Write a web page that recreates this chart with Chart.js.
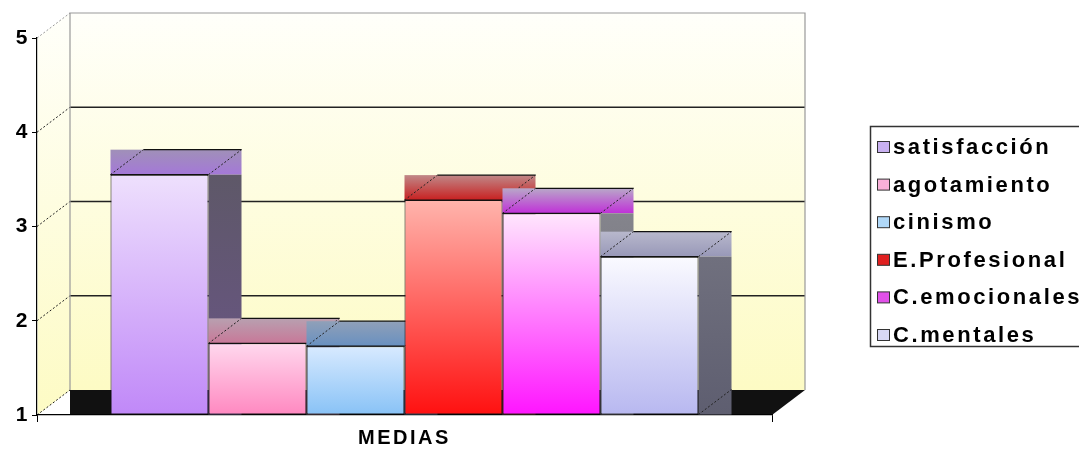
<!DOCTYPE html>
<html>
<head>
<meta charset="utf-8">
<script src="https://cdn.jsdelivr.net/npm/chart.js@4.4.0/dist/chart.umd.min.js"></script>
<style>
  html, body { margin: 0; padding: 0; background: #fff; overflow: hidden; }
  #wrap { width: 1079px; height: 453px; position: relative; }
</style>
</head>
<body>
<div id="wrap"><canvas id="grafico"></canvas></div>
<script>
// Datos
const categorias = ['MEDIAS'];
const series = ['satisfacción', 'agotamiento', 'cinismo', 'E.Profesional', 'C.emocionales', 'C.mentales'];
const medias = [3.55, 1.76, 1.73, 3.28, 3.14, 2.68];
const ticksY = [1, 2, 3, 4, 5];

// Colores (frente arriba/abajo, cara superior arriba/abajo, lateral arriba/abajo, leyenda)
const frente = [['#eee0fd', '#c088f8'], ['#ffd8ee', '#ff88c0'], ['#d8eaff', '#88c2f6'],
                ['#ffb4ac', '#ff1010'], ['#ffe6fd', '#ff14ff'], ['#fafaff', '#b8b8f0']];
const superior = [['#a090b8', '#a478d8'], ['#b8a0b0', '#c87898'], ['#90a0b8', '#6890c0'],
                  ['#c08888', '#c82020'], ['#b8a8c8', '#c030d8'], ['#b8b8cc', '#9898b8']];
const lateral = [['#5e5868', '#6a5488'], ['#706070', '#806070'], ['#586878', '#506888'],
                 ['#705050', '#703030'], ['#84848c', '#707078'], ['#70707e', '#5e5e70']];
const leyenda = ['#c8b0f0', '#f8b0d8', '#b0d8f8', '#e02020', '#e050e8', '#d8d8f4'];

const DX = 33, DY = -25; // profundidad 3D

function gradV(ctx, y0, y1, c0, c1) {
  const g = ctx.createLinearGradient(0, y0, 0, y1);
  g.addColorStop(0, c0);
  g.addColorStop(1, c1);
  return g;
}

function dashed(ctx, x0, y0, x1, y1, color) {
  ctx.save();
  ctx.setLineDash([2, 2]);
  ctx.strokeStyle = color || '#222';
  ctx.lineWidth = 1;
  ctx.beginPath();
  ctx.moveTo(x0, y0);
  ctx.lineTo(x1, y1);
  ctx.stroke();
  ctx.restore();
}

const efecto3d = {
  id: 'efecto3d',
  beforeDraw(chart) {
    const ctx = chart.ctx;
    const { left, right, top, bottom } = chart.chartArea;
    const ys = chart.scales.y;
    const bL = left + DX, bR = right + DX, bT = top + DY, bB = bottom + DY;
    ctx.save();
    // pared del fondo
    ctx.fillStyle = gradV(ctx, bT, bB, '#fffffa', '#fdfbc4');
    ctx.fillRect(bL, bT, bR - bL, bB - bT);
    // pared izquierda
    ctx.fillStyle = gradV(ctx, bT, bottom, '#fffffa', '#fdfbc4');
    ctx.beginPath();
    ctx.moveTo(left + 0.5, top);
    ctx.lineTo(bL, bT);
    ctx.lineTo(bL, bB);
    ctx.lineTo(left + 0.5, bottom);
    ctx.closePath();
    ctx.fill();
    // suelo
    ctx.fillStyle = '#111';
    ctx.beginPath();
    ctx.moveTo(bL, bB);
    ctx.lineTo(bR, bB);
    ctx.lineTo(right, bottom);
    ctx.lineTo(bL, bottom);
    ctx.closePath();
    ctx.fill();
    // líneas de división en el fondo
    ticksY.forEach(v => {
      const py = ys.getPixelForValue(v);
      if (v > 1 && v < 5) {
        ctx.strokeStyle = '#222';
        ctx.lineWidth = 1.5;
        ctx.beginPath();
        ctx.moveTo(bL, py + DY);
        ctx.lineTo(bR, py + DY);
        ctx.stroke();
      }
      dashed(ctx, left, py, bL, py + DY, v === 5 ? '#999' : '#222');
    });
    // borde de la pared
    ctx.strokeStyle = '#999';
    ctx.lineWidth = 1.2;
    ctx.beginPath();
    ctx.moveTo(bL, bB);
    ctx.lineTo(bL, bT);
    ctx.lineTo(bR, bT);
    ctx.lineTo(bR, bB);
    ctx.stroke();
    ctx.restore();
    ctx.letterSpacing = '2.5px';
  },
  beforeDatasetDraw() {
    return false; // se dibujan abajo, en orden, con las caras 3D
  },
  afterDatasetsDraw(chart) {
    const ctx = chart.ctx;
    chart.data.datasets.forEach((ds, i) => {
      const el = chart.getDatasetMeta(i).data[0];
      const { x, y, base, width } = el.getProps(['x', 'y', 'base', 'width'], true);
      const l = x - width / 2, r = x + width / 2;
      ctx.save();
      el.draw(ctx);
      // cara superior
      ctx.fillStyle = gradV(ctx, y + DY, y, superior[i][0], superior[i][1]);
      ctx.fillRect(l, y + DY, width + DX, -DY);
      // lateral
      ctx.fillStyle = gradV(ctx, y, base, lateral[i][0], lateral[i][1]);
      ctx.fillRect(r, y, DX, base - y);
      ctx.strokeStyle = '#111';
      ctx.lineWidth = 1.2;
      ctx.beginPath();
      ctx.moveTo(l + DX, y + DY);
      ctx.lineTo(r + DX, y + DY);
      ctx.stroke();
      ctx.beginPath();
      ctx.moveTo(l, y);
      ctx.lineTo(r, y);
      ctx.stroke();
      dashed(ctx, l, y, l + DX, y + DY);
      dashed(ctx, r, y, r + DX, y + DY);
      dashed(ctx, r, base, r + DX, base + DY);
      ctx.restore();
    });
  },
  afterDraw(chart) {
    const ctx = chart.ctx;
    ctx.save();
    ctx.strokeStyle = '#333';
    ctx.lineWidth = 1.5;
    ctx.strokeRect(870.5, 126.5, 240, 220);
    ctx.font = 'bold 22px "Liberation Sans", Arial, sans-serif';
    ctx.letterSpacing = '2.6px';
    ctx.textBaseline = 'middle';
    series.forEach((s, i) => {
      const yy = 147 + i * 37.6;
      ctx.fillStyle = leyenda[i];
      ctx.fillRect(877.5, yy - 5.5, 12, 11);
      ctx.strokeStyle = '#333';
      ctx.lineWidth = 1;
      ctx.strokeRect(877.5, yy - 5.5, 12, 11);
      ctx.fillStyle = '#000';
      ctx.fillText(s, 893, yy + 1);
    });
    ctx.restore();
  }
};

Chart.defaults.font.family = '"Liberation Sans", Arial, sans-serif';
Chart.defaults.font.size = 21;
Chart.defaults.font.weight = 'bold';
Chart.defaults.color = '#000';

new Chart(document.getElementById('grafico'), {
  type: 'bar',
  data: {
    labels: categorias,
    datasets: series.map((s, i) => ({
      label: s,
      data: [medias[i]],
      base: 1,
      backgroundColor: (c) => {
        const ca = c.chart.chartArea;
        if (!ca) return frente[i][1];
        const top = c.chart.scales.y.getPixelForValue(medias[i]);
        return gradV(c.chart.ctx, top, ca.bottom, frente[i][0], frente[i][1]);
      },
      borderColor: '#111',
      borderWidth: 1,
      borderSkipped: false,
      categoryPercentage: 0.8,
      barPercentage: 1.0
    }))
  },
  options: {
    responsive: true,
    maintainAspectRatio: false,
    animation: false,
    layout: { padding: { top: 38, right: 307, left: 0, bottom: 0 } },
    plugins: { legend: { display: false }, tooltip: { enabled: false } },
    scales: {
      y: {
        min: 1,
        max: 5,
        afterBuildTicks: (s) => { s.ticks = ticksY.map(v => ({ value: v })); },
        afterFit: (s) => { s.width = 37; },
        ticks: { padding: 2, color: '#000' },
        grid: { drawOnChartArea: false, tickLength: 5, color: '#000', lineWidth: 1 },
        border: { display: true, color: '#000', width: 1.2 }
      },
      x: {
        afterFit: (s) => { s.height = 38; },
        ticks: { padding: 4, color: '#000', font: { size: 20 } },
        grid: { drawOnChartArea: false, tickLength: 7, color: '#000', offset: true },
        border: { display: true, color: '#000', width: 1.2 }
      }
    }
  },
  plugins: [efecto3d]
});
</script>
</body>
</html>
